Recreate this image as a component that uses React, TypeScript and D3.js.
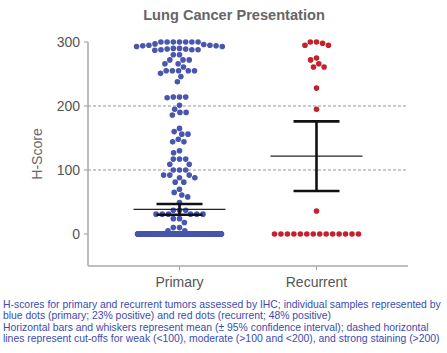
import { useMemo } from "react";
import * as d3 from "d3";

const CATEGORIES = ["Primary", "Recurrent"];

// positive primary samples (H-score)
const PRIMARY_POSITIVE = [
  300, 300, 300, 300, 300, 300, 300,
  297, 296, 295, 295, 294, 294, 293, 293,
  290, 290, 289, 289, 288, 288, 288, 287,
  280, 280, 272, 272, 272, 266, 266, 261,
  255, 255, 255, 255, 255, 251, 246, 238,
  214, 214, 214, 213, 201, 195, 190, 190, 186,
  165, 160, 156, 156, 148, 144, 144,
  130, 127, 117, 117, 117,
  109, 109, 100, 100, 100, 92, 92, 92, 88, 88, 81, 81,
  70, 65, 61, 58, 49,
  37, 37, 37, 31, 31, 31, 31, 31, 31, 24, 24, 18,
  10, 10, 5, 5,
];
const PRIMARY_ZERO_COUNT = 330;

const RECURRENT_POSITIVE = [300, 298, 295, 295, 300, 275, 272, 266, 261, 261, 228, 195, 36];
const RECURRENT_ZERO_COUNT = 14;

const Y_TICKS = [0, 100, 200, 300];
const CUTOFFS = [100, 200];

const FOOTNOTE = [
  "H-scores for primary and recurrent tumors assessed by IHC; individual samples represented by",
  "blue dots (primary; 23% positive) and red dots (recurrent; 48% positive)",
  "Horizontal bars and whiskers represent mean (\u00b1 95% confidence interval); dashed horizontal",
  "lines represent cut-offs for weak (<100), moderate (>100 and <200), and strong staining (>200)",
];

const BLUE = "#4856ad";
const RED = "#c4212b";
const FONT = "'Liberation Sans', Arial, sans-serif";

const W = 447;
const H = 353;
const R = 2.8;

// two-sided 95% t quantile (Cornish-Fisher approximation)
function t95(df: number) {
  const z = 1.959964;
  return z + (z ** 3 + z) / (4 * df) + (5 * z ** 5 + 16 * z ** 3 + 3 * z) / (96 * df * df);
}

function swarm(values: number[], y: (v: number) => number, maxHalf: number) {
  const gap = 2 * R + 0.6;
  const rowGap = 2 * R + 1;
  const out: { v: number; dx: number; cy: number }[] = [];
  const counts = d3.rollup(values, (g) => g.length, (d) => d);
  // big runs of identical values go side by side, squeezed into the column width
  const rows = new Set([...counts].filter(([, n]) => n > 8).map(([v]) => v));
  rows.forEach((v) => {
    const n = counts.get(v)!;
    const step = Math.min(rowGap, (2 * maxHalf) / (n - 1));
    for (let i = 0; i < n; i++) out.push({ v, dx: (i - (n - 1) / 2) * step, cy: y(v) });
  });
  const placed: { dx: number; cy: number }[] = [];
  const rest = values.filter((v) => !rows.has(v)).sort(d3.descending);
  for (const v of rest) {
    const cy = y(v);
    const blocked: [number, number][] = [];
    for (const p of placed) {
      const dy = Math.abs(p.cy - cy);
      if (dy < gap) {
        const w = Math.sqrt(gap * gap - dy * dy);
        blocked.push([p.dx - w, p.dx + w]);
      }
    }
    const cands = [0, ...blocked.flat()].sort((a, b) => Math.abs(a) - Math.abs(b));
    const dx = cands.find((c) => blocked.every(([a, b]) => c <= a + 1e-6 || c >= b - 1e-6))!;
    placed.push({ dx, cy });
    out.push({ v, dx, cy });
  }
  return out;
}

function stats(values: number[]) {
  const m = d3.mean(values)!;
  const se = d3.deviation(values)! / Math.sqrt(values.length);
  const h = t95(values.length - 1) * se;
  return { m, lo: m - h, hi: m + h };
}

export default function App() {
  const x = d3.scalePoint<string>().domain(CATEGORIES).range([88, 408]).padding(0.668);
  const y = d3.scaleLinear().domain([-50, 300]).range([266, 42]);

  const groups = useMemo(() => {
    const primary = [...PRIMARY_POSITIVE, ...Array(PRIMARY_ZERO_COUNT).fill(0)];
    const recurrent = [...RECURRENT_POSITIVE, ...Array(RECURRENT_ZERO_COUNT).fill(0)];
    return [
      { name: CATEGORIES[0], color: BLUE, dots: swarm(primary, y, 42), ...stats(primary) },
      { name: CATEGORIES[1], color: RED, dots: swarm(recurrent, y, 42), ...stats(recurrent) },
    ];
  }, []);

  const x0 = 88;
  const x1 = 408;

  return (
    <svg
      width={W}
      height={H}
      style={{ position: "absolute", left: 0, top: 0, background: "#fff" }}
      fontFamily={FONT}
    >
      <text x={234} y={20} textAnchor="middle" fontSize={14.6} fontWeight="bold" fill="#666">
        Lung Cancer Presentation
      </text>

      {CUTOFFS.map((c) => (
        <line key={c} x1={x0} x2={x1} y1={y(c)} y2={y(c)} stroke="#7a7a7a" strokeWidth={0.8} strokeDasharray="3,2" />
      ))}

      {/* y axis */}
      <line x1={x0} x2={x0} y1={y(300)} y2={y(-50)} stroke="#a8a8a8" strokeWidth={1.5} />
      {Y_TICKS.map((t) => (
        <g key={t}>
          <line x1={x0 - 4} x2={x0} y1={y(t)} y2={y(t)} stroke="#a8a8a8" strokeWidth={1.2} />
          <text x={80} y={y(t)} dy="0.36em" textAnchor="end" fontSize={14} fill="#555">
            {t}
          </text>
        </g>
      ))}
      <text
        transform={`translate(37,${y(125)}) rotate(-90)`}
        textAnchor="middle"
        dy="0.36em"
        fontSize={14}
        fill="#666"
      >
        H-Score
      </text>

      {/* x axis */}
      <line x1={x0} x2={x1} y1={y(-50)} y2={y(-50)} stroke="#a8a8a8" strokeWidth={1.5} />
      {CATEGORIES.map((c) => (
        <g key={c}>
          <line x1={x(c)!} x2={x(c)!} y1={y(-50)} y2={y(-50) + 4} stroke="#a8a8a8" strokeWidth={1.2} />
          <text x={x(c)!} y={287} textAnchor="middle" fontSize={14} fill="#555">
            {c}
          </text>
        </g>
      ))}

      {groups.map((g) => {
        const cx = x(g.name)!;
        return (
          <g key={g.name}>
            {g.dots.map((d, i) => (
              <circle key={i} cx={cx + d.dx} cy={d.cy} r={R} fill={g.color} />
            ))}
            <line x1={cx - 46} x2={cx + 46} y1={y(g.m)} y2={y(g.m)} stroke="#222" strokeWidth={1.3} />
            <line x1={cx} x2={cx} y1={y(g.lo)} y2={y(g.hi)} stroke="#111" strokeWidth={2.6} />
            <line x1={cx - 23} x2={cx + 23} y1={y(g.lo)} y2={y(g.lo)} stroke="#111" strokeWidth={2.6} />
            <line x1={cx - 23} x2={cx + 23} y1={y(g.hi)} y2={y(g.hi)} stroke="#111" strokeWidth={2.6} />
          </g>
        );
      })}

      {FOOTNOTE.map((line, i) => (
        <text key={i} x={3} y={307.5 + i * 11.5} fontSize={10.4} fill="#3b4bb0">
          {line}
        </text>
      ))}
    </svg>
  );
}
